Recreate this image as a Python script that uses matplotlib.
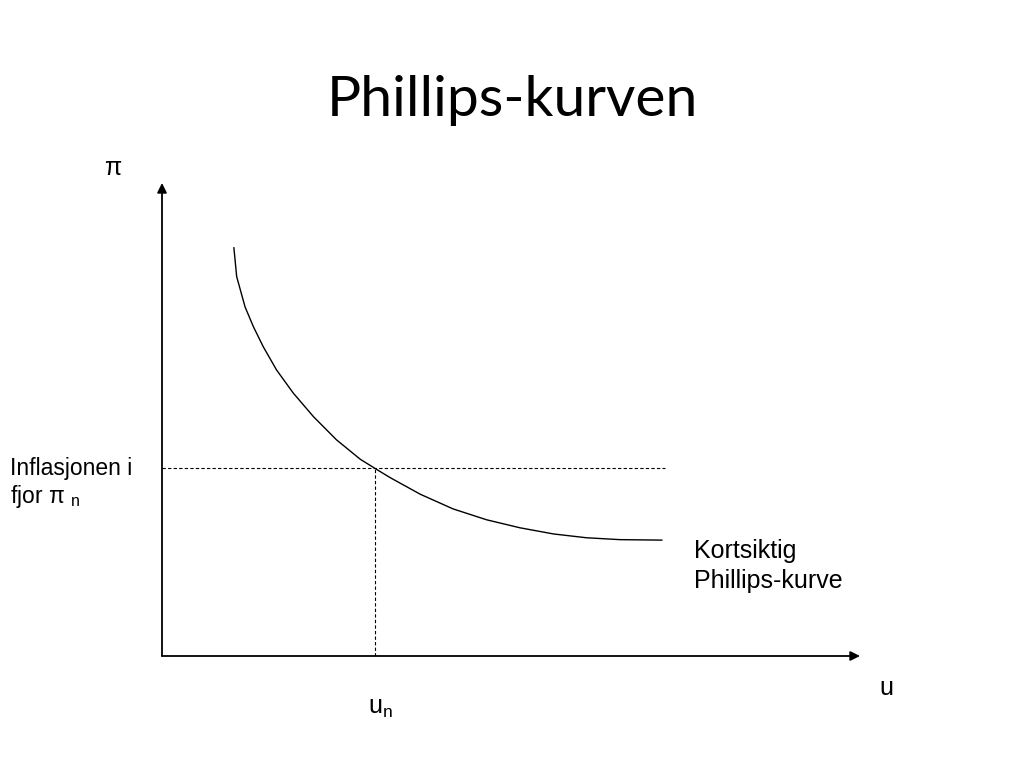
import matplotlib.pyplot as plt

# Short-run Phillips curve (u on x, pi on y, 0..10 scale)
curve_u = [1.03, 1.07, 1.19, 1.31, 1.45, 1.64, 1.88, 2.17, 2.50, 2.84, 3.08,
           3.27, 3.70, 4.17, 4.65, 5.13, 5.61, 6.08, 6.56, 7.16]
curve_pi = [8.63, 8.02, 7.38, 6.96, 6.54, 6.05, 5.56, 5.06, 4.57, 4.16, 3.94,
            3.77, 3.42, 3.11, 2.88, 2.71, 2.58, 2.50, 2.46, 2.45]

u_n = 3.05
pi_n = 3.97
hline_end = 7.2

fig = plt.figure(figsize=(10.24, 7.68), dpi=100)
fig.patch.set_facecolor("white")

ax = fig.add_axes([162 / 1024, (768 - 656) / 768, (860 - 162) / 1024, (656 - 183) / 768])
ax.set_xlim(0, 10)
ax.set_ylim(0, 10)
ax.axis("off")

# axes with arrow heads
arrow = dict(arrowstyle="-|>", color="black", lw=1.3, mutation_scale=14,
             shrinkA=0, shrinkB=0)
ax.annotate("", xy=(1, 0), xytext=(0, 0), xycoords="axes fraction",
            arrowprops=arrow, annotation_clip=False)
ax.annotate("", xy=(0, 1), xytext=(0, 0), xycoords="axes fraction",
            arrowprops=arrow, annotation_clip=False)

ax.plot(curve_u, curve_pi, color="black", lw=1.0)
ax.plot([0, hline_end], [pi_n, pi_n], color="black", lw=0.8, ls=(0, (3, 2)))
ax.plot([u_n, u_n], [0, pi_n], color="black", lw=0.8, ls=(0, (3, 2)))

fig.text(0.5, 1 - 100 / 768, "Phillips-kurven", ha="center", va="center",
         fontsize=41, family="Lato")

lab = dict(family="Liberation Sans", fontsize=18, color="black")
side = dict(lab, fontsize=16.5)
fig.text(10 / 1024, 1 - 468 / 768, "Inflasjonen i", ha="left", va="center", **side)
fig.text(10 / 1024, 1 - 497 / 768, r"fjor π $_{\mathregular{n}}$", ha="left", va="center", **side)
fig.text(694 / 1024, 1 - 551 / 768, "Kortsiktig", ha="left", va="center", **lab)
fig.text(694 / 1024, 1 - 581 / 768, "Phillips-kurve", ha="left", va="center", **lab)
fig.text(113 / 1024, 1 - 168 / 768, "π", ha="center", va="center", **lab)
fig.text(886 / 1024, 1 - 688 / 768, "u", ha="center", va="center", **lab)
fig.text(380 / 1024, 1 - 708 / 768, r"u$_{\mathregular{n}}$", ha="center", va="center", **lab)

fig.savefig("out.png", dpi=100)
